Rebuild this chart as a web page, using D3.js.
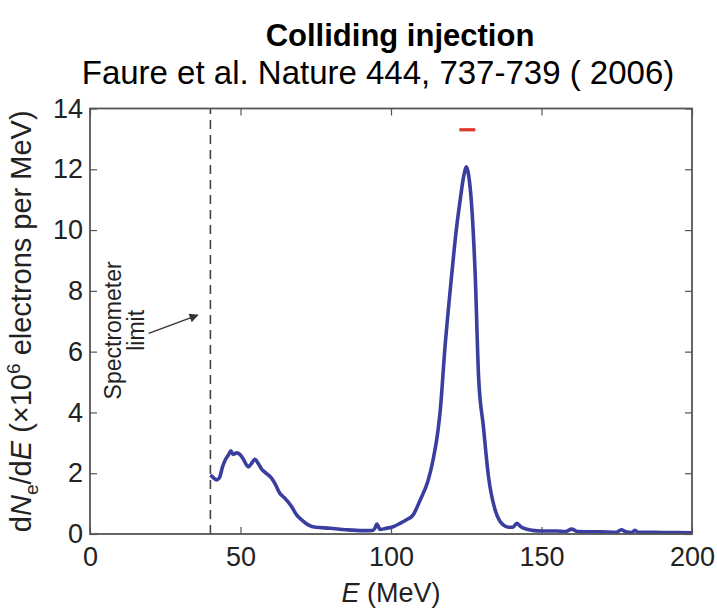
<!DOCTYPE html>
<html>
<head>
<meta charset="utf-8">
<script src="https://cdn.jsdelivr.net/npm/d3@7"></script>
<style>
  body { margin: 0; background: #fff; }
  text { font-family: "Liberation Sans", Arial, sans-serif; }
</style>
</head>
<body>
<div id="chart"></div>
<script>
// Spectrum: energy (MeV) and dNe/dE (x10^6 electrons per MeV)
const energy = [
  40, 41, 42, 43, 44, 45, 46, 46.8, 47.5, 48.8,
  50, 51, 52.6, 53.5, 54.8, 56, 57, 58.5, 60.3, 61.5,
  63, 64.5, 65.8, 67, 68.7, 70.5, 72.5, 75, 79.7, 85,
  90.7, 94, 94.7, 95.3, 96.4, 98, 100.7, 103, 105, 107.3,
  109.7, 112.3, 114.1, 115.6, 116.3, 117.9, 120.1, 121.8, 123, 124.2,
  125.1, 125.8, 126.9, 128, 129.1, 130.7, 132.4, 134.6, 136, 137.3,
  139, 140.5, 141.8, 143, 144, 147, 150, 155, 158, 160,
  162, 170, 175, 176.5, 178, 180, 181, 182, 190, 200
];
const dNdE = [
  1.94, 1.85, 1.78, 1.85, 2.2, 2.45, 2.6, 2.74, 2.62, 2.67,
  2.6, 2.45, 2.21, 2.3, 2.46, 2.3, 2.14, 2.0, 1.84, 1.65,
  1.35, 1.2, 1.06, 0.9, 0.62, 0.45, 0.30, 0.22, 0.19, 0.14,
  0.11, 0.12, 0.2, 0.33, 0.15, 0.18, 0.24, 0.35, 0.46, 0.62,
  1.12, 1.75, 2.5, 3.4, 4.0, 6.1, 8.46, 10.1, 11.0, 11.8,
  12.08, 11.8, 10.66, 8.46, 5.17, 3.53, 1.88, 0.79, 0.45, 0.30,
  0.22, 0.22, 0.35, 0.25, 0.19, 0.12, 0.1, 0.1, 0.08, 0.16,
  0.08, 0.07, 0.06, 0.14, 0.07, 0.05, 0.12, 0.06, 0.05, 0.04
];

const xTicks = [0, 50, 100, 150, 200];
const yTicks = [0, 2, 4, 6, 8, 10, 12, 14];

const spectrometerLimit = 40;      // MeV
const redBar = [122.7, 128, 13.3]; // from, to, level
const arrowFrom = [19.5, 6.6];
const arrowTo = [35.8, 7.2];

// 1. Dimensions
const W = 717, H = 608;
const margin = {top: 108.5, right: 25, bottom: 74, left: 90},
      width = W - margin.left - margin.right,
      height = H - margin.top - margin.bottom;

const root = d3.select("#chart").append("svg")
    .attr("width", W)
    .attr("height", H);

// Titles
root.append("text")
    .attr("x", 400).attr("y", 46)
    .attr("text-anchor", "middle")
    .style("font-size", "31px").style("font-weight", "bold")
    .text("Colliding injection");

root.append("text")
    .attr("x", 378).attr("y", 84)
    .attr("text-anchor", "middle")
    .style("font-size", "33px")
    .text("Faure et al. Nature 444, 737-739 ( 2006)");

const svg = root.append("g")
    .attr("transform", `translate(${margin.left},${margin.top})`);

// 2. Scales
const x = d3.scaleLinear().domain([0, 200]).range([0, width]);
const y = d3.scaleLinear().domain([0, 14]).range([height, 0]);

const frameColor = "#555";

// Axes with inward ticks (mirrored on top/right)
const styleAxis = g => {
    g.select(".domain").remove();
    g.selectAll(".tick line").attr("stroke", frameColor).attr("stroke-width", 1.2);
    g.selectAll(".tick text")
        .style("font-size", "27px")
        .style("font-family", "Liberation Sans, Arial, sans-serif")
        .attr("fill", "#222");
};

svg.append("g")
    .attr("transform", `translate(0,${height})`)
    .call(d3.axisBottom(x).tickValues(xTicks).tickSize(-7).tickPadding(13))
    .call(styleAxis);

svg.append("g")
    .call(d3.axisTop(x).tickValues(xTicks).tickSize(-7).tickFormat(""))
    .call(styleAxis);

svg.append("g")
    .call(d3.axisLeft(y).tickValues(yTicks).tickSize(-7).tickPadding(7))
    .call(styleAxis);

svg.append("g")
    .attr("transform", `translate(${width},0)`)
    .call(d3.axisRight(y).tickValues(yTicks).tickSize(-7).tickFormat(""))
    .call(styleAxis);

// Spectrometer limit (dashed)
svg.append("line")
    .attr("x1", x(spectrometerLimit)).attr("x2", x(spectrometerLimit))
    .attr("y1", y(0)).attr("y2", y(14))
    .attr("stroke", "#444")
    .attr("stroke-width", 1.6)
    .attr("stroke-dasharray", "9,6");

// Spectrum curve
const line = d3.line()
    .x((d, i) => x(energy[i]))
    .y(d => y(d))
    .curve(d3.curveMonotoneX);

svg.append("path")
    .datum(dNdE)
    .attr("fill", "none")
    .attr("stroke", "#3a3f9f")
    .attr("stroke-width", 3.6)
    .attr("stroke-linejoin", "round")
    .attr("d", line);

// Red bar near peak
svg.append("line")
    .attr("x1", x(redBar[0])).attr("x2", x(redBar[1]))
    .attr("y1", y(redBar[2])).attr("y2", y(redBar[2]))
    .attr("stroke", "#e0342c")
    .attr("stroke-width", 3.2);

// Frame
svg.append("rect")
    .attr("width", width).attr("height", height)
    .attr("fill", "none")
    .attr("stroke", frameColor)
    .attr("stroke-width", 1.8);

// Arrow + annotation
svg.append("defs").append("marker")
    .attr("id", "head")
    .attr("viewBox", "0 0 10 10")
    .attr("refX", 9).attr("refY", 5)
    .attr("markerWidth", 10).attr("markerHeight", 9)
    .attr("markerUnits", "userSpaceOnUse")
    .attr("orient", "auto")
    .append("path")
        .attr("d", "M0,0 L10,5 L0,10 Z")
        .attr("fill", "#333");

svg.append("line")
    .attr("x1", x(arrowFrom[0])).attr("y1", y(arrowFrom[1]))
    .attr("x2", x(arrowTo[0])).attr("y2", y(arrowTo[1]))
    .attr("stroke", "#333")
    .attr("stroke-width", 1.3)
    .attr("marker-end", "url(#head)");

const note = svg.append("text")
    .attr("transform", `translate(${x(10.2)},${y(6.7)}) rotate(-90)`)
    .attr("text-anchor", "middle")
    .style("font-size", "23px")
    .attr("fill", "#222");
note.append("tspan").attr("x", 0).attr("dy", 0).text("Spectrometer");
note.append("tspan").attr("x", 0).attr("dy", 23).text("limit");

// Axis labels
const xl = svg.append("text")
    .attr("x", width / 2).attr("y", height + 68)
    .attr("text-anchor", "middle")
    .style("font-size", "27px")
    .attr("fill", "#222");
xl.append("tspan").style("font-style", "italic").text("E");
xl.append("tspan").text(" (MeV)");

const yl = svg.append("text")
    .attr("transform", `translate(-59,${height / 2}) rotate(-90)`)
    .attr("text-anchor", "middle")
    .style("font-size", "29px")
    .attr("fill", "#222");
yl.append("tspan").text("d");
yl.append("tspan").style("font-style", "italic").text("N");
yl.append("tspan").attr("dy", 7).style("font-size", "19px").text("e");
yl.append("tspan").attr("dy", -7).text("/d");
yl.append("tspan").style("font-style", "italic").text("E");
yl.append("tspan").text(" (\u00d710");
yl.append("tspan").attr("dy", -11).style("font-size", "19px").text("6");
yl.append("tspan").attr("dy", 11).text(" electrons per MeV)");
</script>
</body>
</html>
